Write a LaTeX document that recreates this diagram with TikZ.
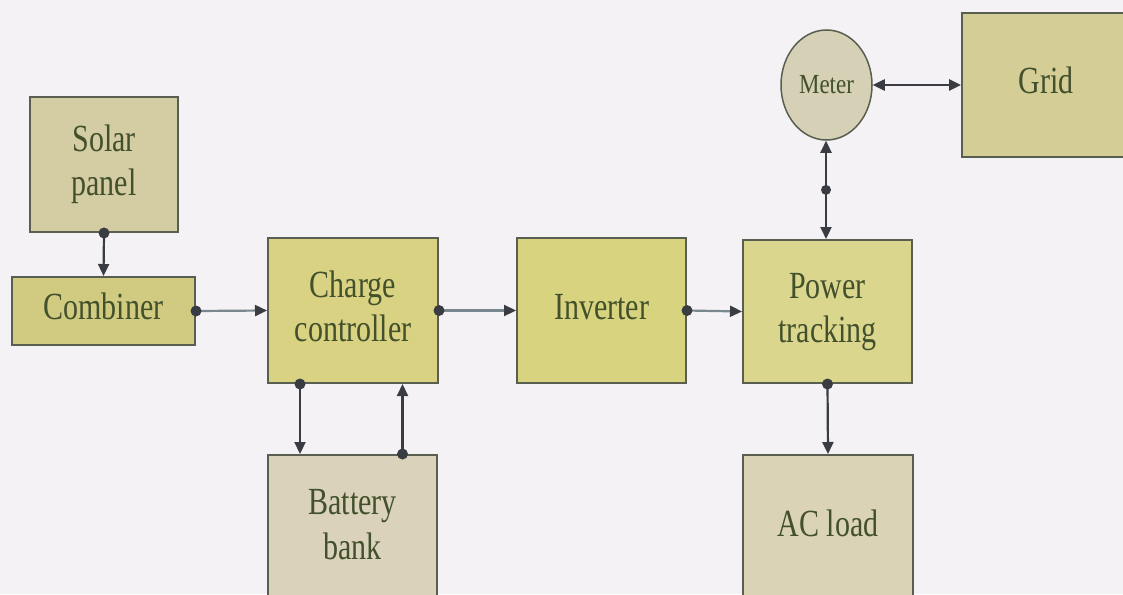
\documentclass[tikz,border=0pt]{standalone}
\usepackage{fontspec}
\setmainfont{Liberation Serif}
\usetikzlibrary{arrows.meta,shapes.geometric,calc}
\definecolor{bgc}{RGB}{244,242,245}
\definecolor{edgec}{RGB}{88,94,80}
\definecolor{txtc}{RGB}{66,80,44}
\definecolor{linec}{RGB}{58,60,68}
\definecolor{hlinec}{RGB}{120,136,142}
\definecolor{fsolar}{RGB}{212,204,162}
\definecolor{fcomb}{RGB}{208,203,128}
\definecolor{fcc}{RGB}{216,210,130}
\definecolor{finv}{RGB}{216,211,126}
\definecolor{fpt}{RGB}{219,214,142}
\definecolor{fmeter}{RGB}{214,208,182}
\definecolor{fgrid}{RGB}{212,206,150}
\definecolor{fbat}{RGB}{218,210,186}
\definecolor{fac}{RGB}{219,211,182}
\newcommand{\stx}[1]{\scalebox{1}[1.28]{\begin{tabular}{@{}c@{}}#1\end{tabular}}}
\tikzset{
  blk/.style={draw=edgec, line width=2pt, rectangle, inner sep=0pt, text=txtc,
    font=\fontsize{30}{35}\selectfont},
  conn/.style={draw=linec, line width=2.2pt, -{Triangle[length=12pt,width=11pt]}},
  hconn/.style={draw=hlinec, line width=2.2pt, -{Triangle[length=12pt,width=11pt,color=linec,fill=linec]}},
  bconn/.style={draw=linec, line width=2.2pt, {Triangle[length=12pt,width=11pt]}-{Triangle[length=12pt,width=11pt]}},
  dotc/.style={circle, fill=linec, inner sep=0pt, minimum size=11pt}
}
\begin{document}
\begin{tikzpicture}[x=1pt,y=-1pt]
\useasboundingbox (0,0) rectangle (1123,594);
\fill[bgc] (0,0) rectangle (1123,594);
\clip (0,0) rectangle (1123,594);

\node[blk, fill=fsolar, minimum width=148pt, minimum height=135pt] (solar) at (104,164.5) {\stx{Solar\\panel}};
\node[blk, fill=fcomb, minimum width=183pt, minimum height=68pt] (comb) at (103.5,311) {\stx{Combiner}};
\node[blk, fill=fcc, minimum width=170pt, minimum height=145pt] (cc) at (353,310.5) {\stx{Charge\\controller}};
\node[blk, fill=finv, minimum width=169pt, minimum height=145pt] (inv) at (601.5,310.5) {\stx{Inverter}};
\node[blk, fill=fpt, minimum width=169pt, minimum height=143pt] (pt) at (827.5,311.5) {\stx{Power\\tracking}};
\node[blk, fill=fbat, minimum width=169pt, minimum height=146pt] (bat) at (352.5,528) {\stx{Battery\\bank}};
\node[blk, fill=fac, minimum width=170pt, minimum height=146pt] (ac) at (828,528) {\stx{AC load}};
\node[blk, fill=fgrid, minimum width=168pt, minimum height=144pt] (grid) at (1046,85) {\stx{Grid}};
\node[blk, ellipse, fill=fmeter, minimum width=91pt, minimum height=110pt, line width=1.5pt,
  font=\fontsize{23}{24}\selectfont] (meter) at (826.5,85) {\scalebox{1}[1.2]{Meter}};

% solar -> combiner
\draw[conn] (solar.south) -- (comb.north);
\node[dotc] (d1) at (solar.south) {};
% combiner -> cc
\draw[hconn] (comb.east) -- (cc.west);
\node[dotc] (d2) at (comb.east) {};
% cc -> inverter
\draw[hconn] (cc.east) -- (inv.west);
\node[dotc] (d3) at (cc.east) {};
% inverter -> pt
\draw[hconn] (inv.east) -- (pt.west);
\node[dotc] (d4) at (inv.east) {};
% pt <-> meter
\coordinate (ptt) at ([xshift=-1.5pt]pt.north);
\draw[bconn] (ptt) -- (ptt |- meter.south);
\node[dotc, minimum size=10pt] (d5) at ($(ptt)!0.5!(ptt |- meter.south)$) {};
% meter <-> grid
\draw[bconn, line width=2.5pt] (meter.east) -- (grid.west);
% cc -> battery
\coordinate (ccl) at ([xshift=-53pt]cc.south);
\draw[conn] (ccl) -- (ccl |- bat.north);
\node[dotc] (d6) at (ccl) {};
% battery -> cc
\coordinate (bar) at ([xshift=50pt]bat.north);
\draw[conn] (bar) -- (bar |- cc.south);
\node[dotc] (d7) at (bar) {};
% pt -> ac load
\draw[conn] (pt.south) -- (ac.north);
\node[dotc] (d8) at (pt.south) {};
\end{tikzpicture}
\end{document}
